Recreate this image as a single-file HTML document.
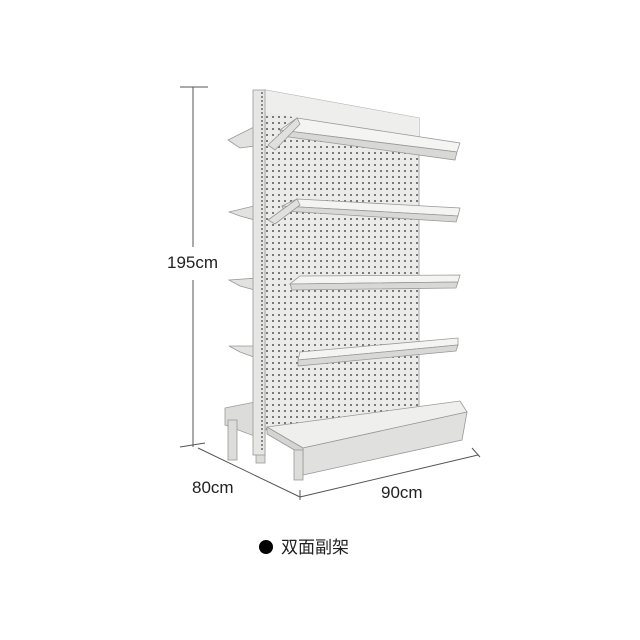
<!DOCTYPE html>
<html><head><meta charset="utf-8"><style>
html,body{margin:0;padding:0;background:#fff;width:640px;height:640px;overflow:hidden}
</style></head><body>
<svg width="640" height="640" viewBox="0 0 640 640" xmlns="http://www.w3.org/2000/svg">
<defs>
<pattern id="holes" width="6" height="6" patternUnits="userSpaceOnUse">
<rect width="6" height="6" fill="#ebebe9"/><circle cx="3" cy="3" r="1" fill="#555"/>
</pattern>
</defs>
<g stroke="#555" stroke-width="1" fill="none">
<line x1="193" y1="87" x2="193" y2="247"/>
<line x1="193" y1="280" x2="193" y2="447"/>
<line x1="180" y1="87" x2="208" y2="87"/>
<line x1="180" y1="447" x2="205" y2="443"/>
<line x1="198" y1="448" x2="300" y2="497"/>
<line x1="300" y1="497" x2="478" y2="455"/>
<line x1="300" y1="490" x2="300" y2="500"/>
<line x1="472" y1="448" x2="480" y2="457"/>
</g>
<g font-family="Liberation Sans, sans-serif" font-size="17" fill="#222">
<text x="167" y="268">195cm</text>
<text x="192" y="493">80cm</text>
<text x="381" y="498">90cm</text>
</g>
<polygon points="265,90 419,118 419,410 265,430" fill="url(#holes)" stroke="#aaa" stroke-width="1"/>
<polygon points="265,90 419,118 419,140 265,112" fill="#eeeeec"/>
<g fill="#e2e2e0" stroke="#999" stroke-width="0.8">
<polygon points="228,140 258,125 262,145 240,148"/>
<polygon points="229,212 258,205 262,222 240,216"/>
<polygon points="229,280 258,278 262,292 240,286"/>
<polygon points="229,346 258,346 262,360 240,352"/>
</g>
<polygon points="225,408 265,400 265,440 225,425" fill="#dcdcda" stroke="#999" stroke-width="0.8"/>
<rect x="228" y="420" width="9" height="40" fill="#dcdcda" stroke="#999" stroke-width="0.8"/>
<rect x="256" y="430" width="9" height="33" fill="#dcdcda" stroke="#999" stroke-width="0.8"/>
<rect x="253" y="90" width="12" height="365" fill="#e6e6e4" stroke="#999" stroke-width="0.8"/>
<line x1="262" y1="92" x2="262" y2="450" stroke="#666" stroke-width="1.5" stroke-dasharray="2,2"/>
<g stroke="#999" stroke-width="0.8">
<polygon points="297,118 460,143 457,152 280,130" fill="#f4f4f2"/>
<polygon points="280,130 457,152 455,160 282,136" fill="#d8d8d6"/>
<polygon points="268,145 297,118 300,124 275,150" fill="#e0e0de"/>
<polygon points="297,199 460,208 458,216 282,206" fill="#f4f4f2"/>
<polygon points="282,206 458,216 456,222 284,211" fill="#d8d8d6"/>
<polygon points="268,220 297,199 300,205 275,224" fill="#e0e0de"/>
<polygon points="300,276 460,275 458,282 290,284" fill="#f4f4f2"/>
<polygon points="290,284 458,282 456,288 292,290" fill="#d8d8d6"/>
<polygon points="300,352 458,338 458,345 298,360" fill="#f4f4f2"/>
<polygon points="298,360 458,345 456,351 298,366" fill="#d8d8d6"/>
<polygon points="267,427 460,401 467,412 303,448" fill="#efefed"/>
<polygon points="303,448 467,412 462,440 303,475" fill="#e0e0de"/>
<polygon points="267,427 303,448 303,455 267,434" fill="#d4d4d2"/>
<rect x="294" y="450" width="9" height="30" fill="#dcdcda"/>
</g>
<circle cx="266" cy="547" r="7" fill="#000"/>
<text x="281" y="553" font-family="Liberation Sans, 'Noto Sans CJK SC', sans-serif" font-size="17" fill="#222">双面副架</text>
</svg>
</body></html>
